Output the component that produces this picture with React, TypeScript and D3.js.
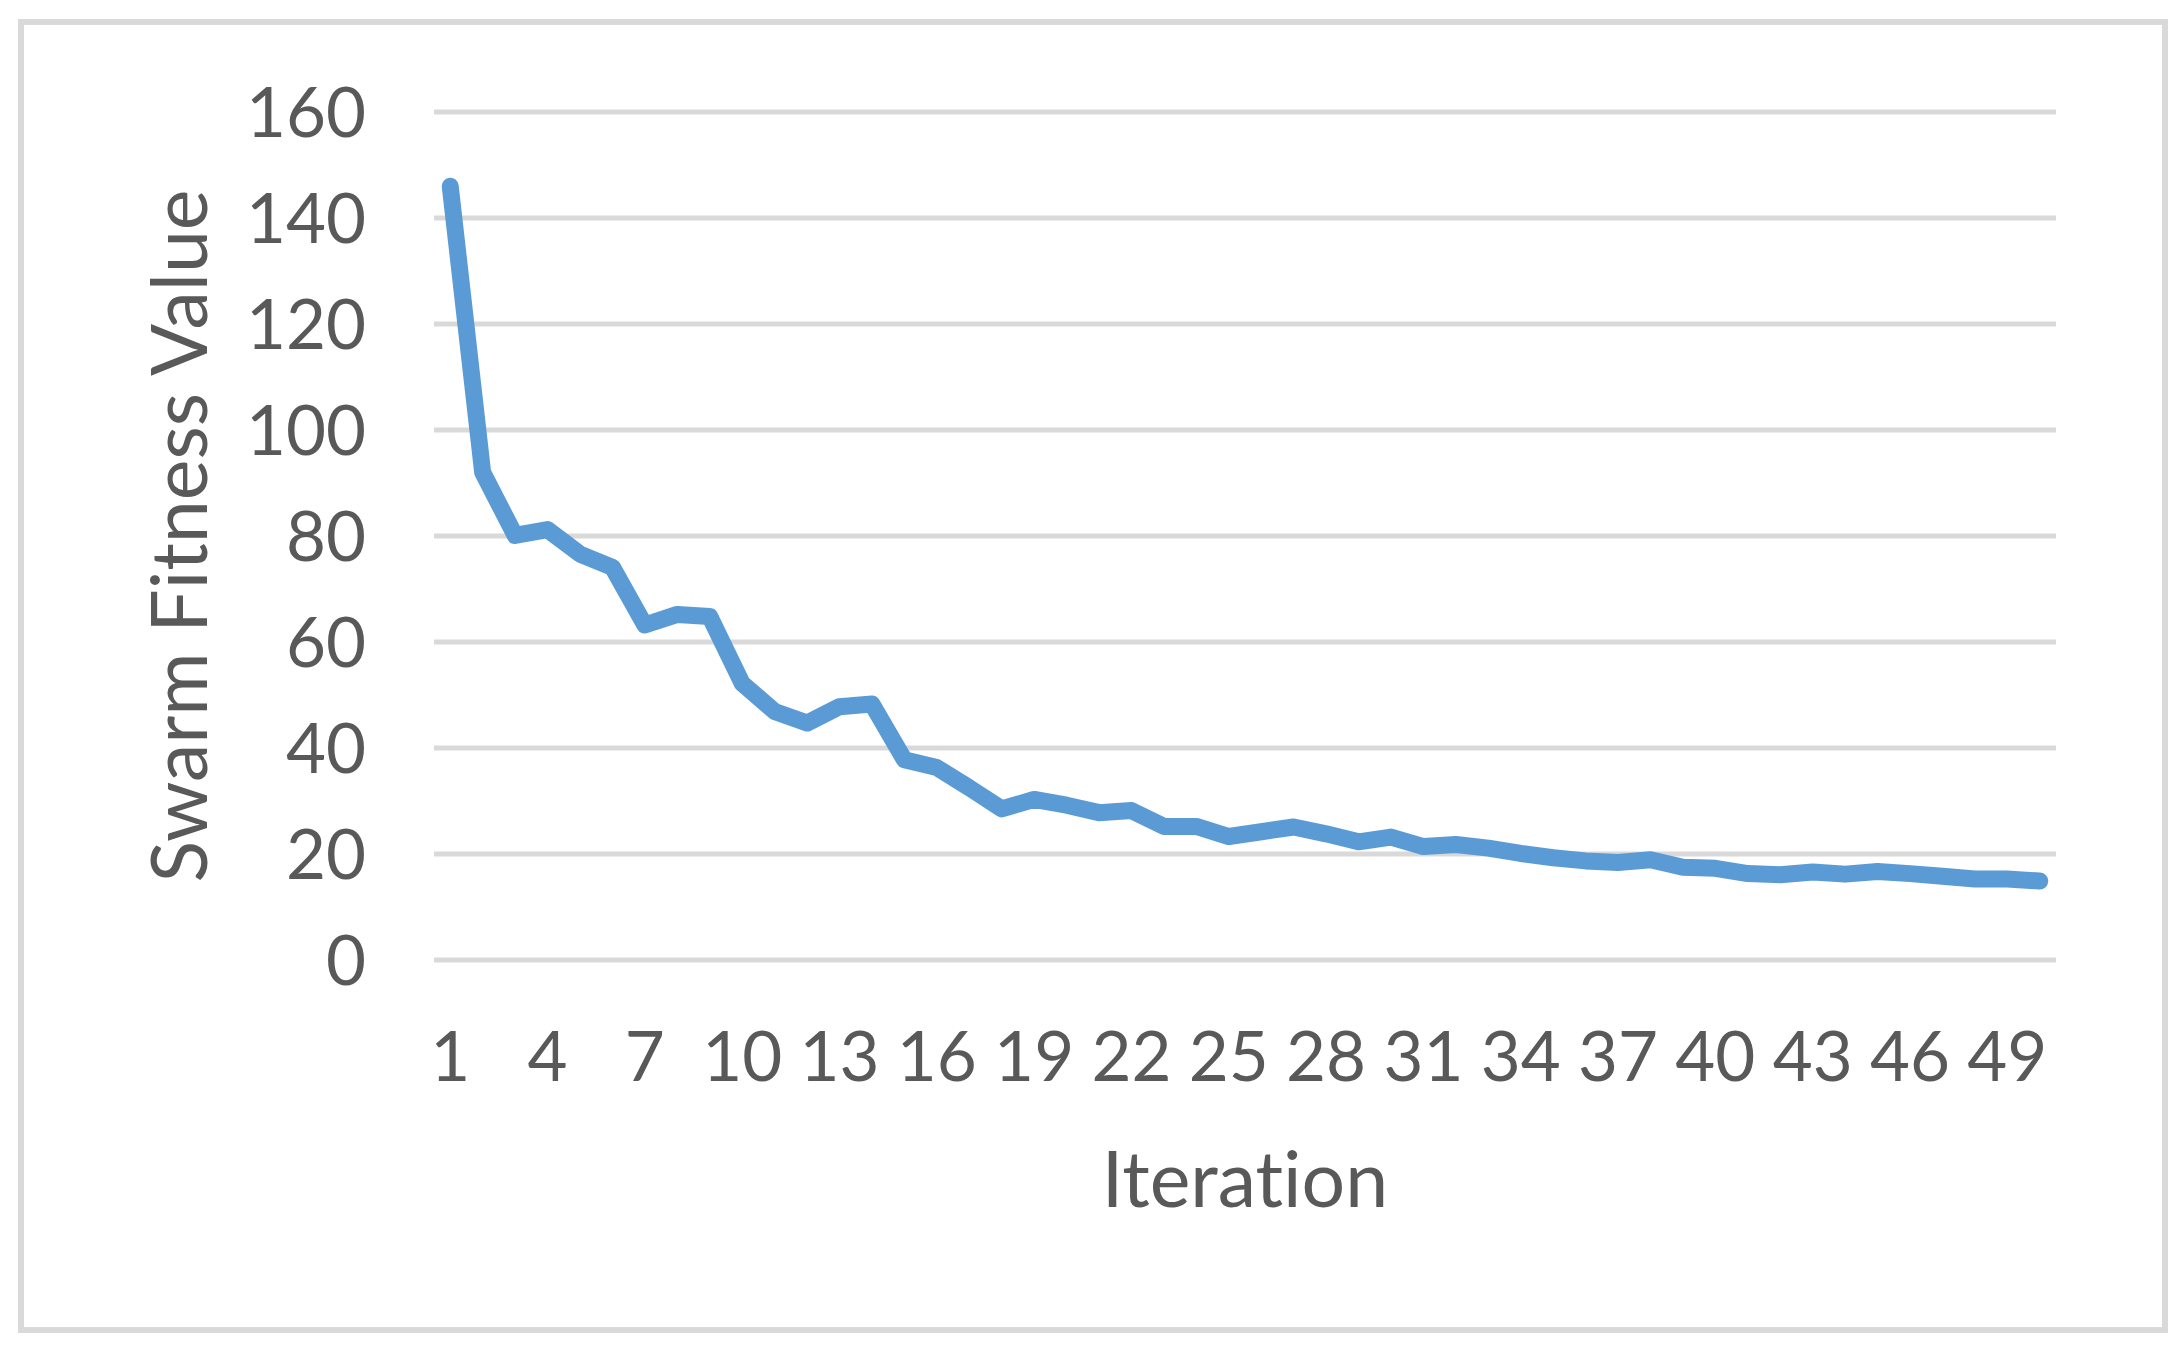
import React from "react";
import * as d3 from "d3";

const iterations: number[] = Array.from({ length: 50 }, (_, i) => i + 1);
const fitness: number[] = [
  146, 92, 80.1, 81.2, 76.6, 74.1, 63.2, 65.2, 64.8, 52.2,
  46.9, 44.7, 47.8, 48.3, 37.8, 36.3, 32.5, 28.5, 30.3, 29.2,
  27.8, 28.2, 25.2, 25.2, 23.3, 24.2, 25.1, 23.8, 22.3, 23.2,
  21.4, 21.8, 21.1, 20.1, 19.3, 18.7, 18.4, 18.9, 17.5, 17.3,
  16.3, 16.1, 16.6, 16.2, 16.7, 16.3, 15.8, 15.3, 15.3, 14.9,
];
const yTicks: number[] = [0, 20, 40, 60, 80, 100, 120, 140, 160];
const xTickLabels: number[] = iterations.filter((d) => (d - 1) % 3 === 0);
const xTitle = "Iteration";
const yTitle = "Swarm Fitness Value";

const W = 2181;
const H = 1347;
const FONT = "Lato, 'Open Sans', sans-serif";
const TEXT = "#595959";
const GRID = "#d9d9d9";
const LINE = "#5b9bd5";

export default function App() {
  const x = d3.scalePoint<number>().domain(iterations).range([434, 2056]).padding(0.5);
  const y = d3.scaleLinear().domain([0, 160]).range([960, 112]);
  const line = d3
    .line<number>()
    .x((_, i) => x(iterations[i]) as number)
    .y((d) => y(d));

  return (
    <svg
      width={W}
      height={H}
      style={{
        position: "absolute",
        left: 0,
        top: 0,
        display: "block",
        fontVariantLigatures: "none",
        fontFeatureSettings: '"liga" 0, "clig" 0',
      }}
      fontFamily={FONT}
    >
      <rect x={0} y={0} width={W} height={H} fill="#fff" />
      <rect x={21} y={22} width={2144} height={1308} fill="#fff" stroke={GRID} strokeWidth={6} />
      {yTicks.map((t) => (
        <line key={"g" + t} x1={434} x2={2056} y1={y(t)} y2={y(t)} stroke={GRID} strokeWidth={5} />
      ))}
      {yTicks.map((t) => (
        <text key={"yt" + t} x={366} y={y(t) + 25} textAnchor="end" fontSize={69} fill={TEXT}>
          {t}
        </text>
      ))}
      {xTickLabels.map((t) => (
        <text key={"xt" + t} x={x(t) as number} y={1081} textAnchor="middle" fontSize={69} fill={TEXT}>
          {t}
        </text>
      ))}
      <path
        d={line(fitness) || ""}
        fill="none"
        stroke={LINE}
        strokeWidth={17}
        strokeLinecap="round"
        strokeLinejoin="round"
      />
      <text x={1245} y={1207} textAnchor="middle" fontSize={77} fill={TEXT}>
        {xTitle}
      </text>
      <text
        transform={`translate(207, 536) rotate(-90)`}
        textAnchor="middle"
        fontSize={77}
        fill={TEXT}
      >
        {yTitle}
      </text>
    </svg>
  );
}
